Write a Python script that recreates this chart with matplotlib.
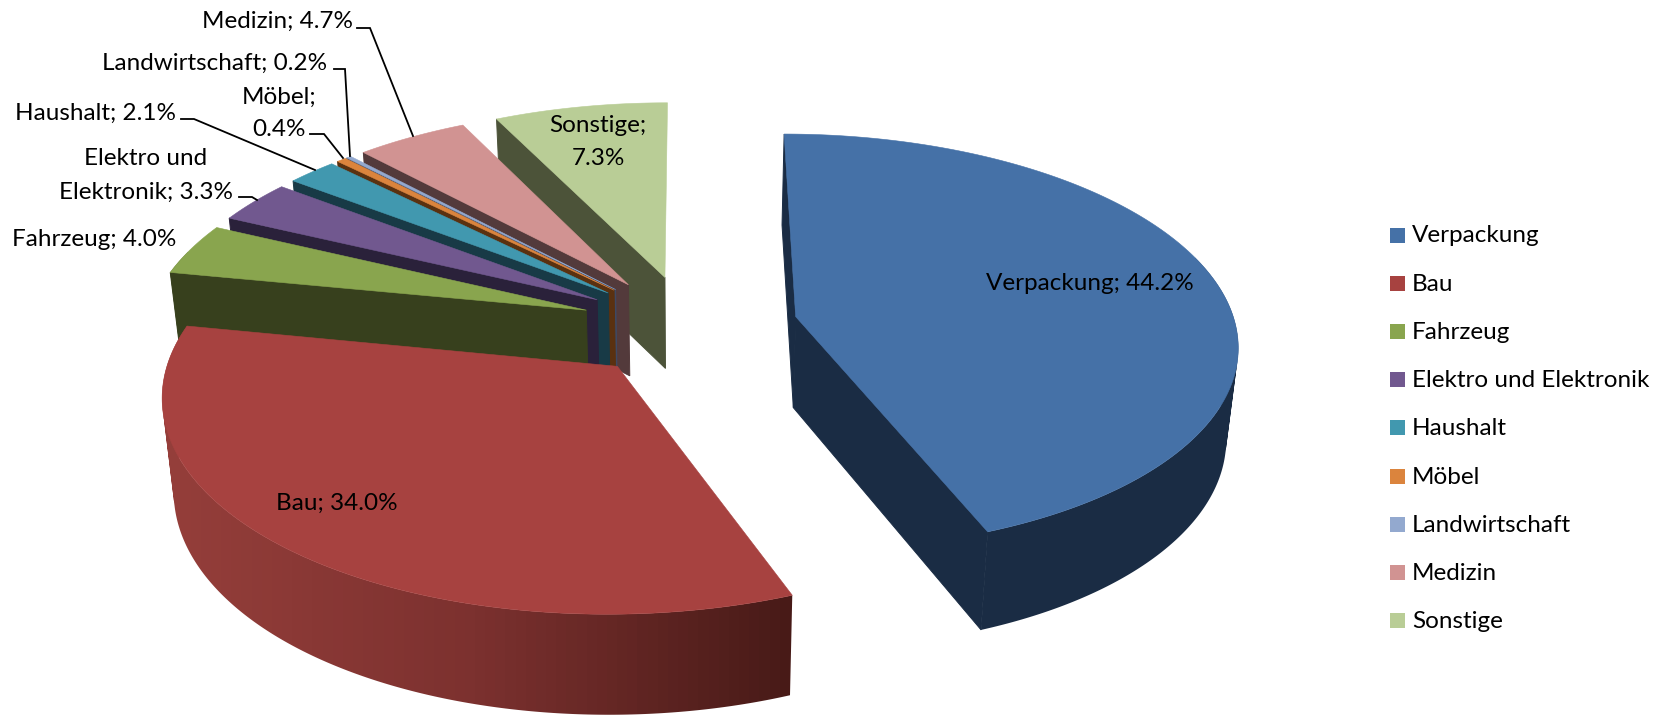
import numpy as np
import matplotlib
matplotlib.use("Agg")
import matplotlib.pyplot as plt
from matplotlib.patches import Polygon, Rectangle, PathPatch
from matplotlib.path import Path
from matplotlib.colors import LinearSegmentedColormap

plt.rcParams['font.family'] = ['Lato', 'DejaVu Sans']

# ---- data ----
categories = ["Verpackung", "Bau", "Fahrzeug", "Elektro und Elektronik", "Haushalt",
              "Möbel", "Landwirtschaft", "Medizin", "Sonstige"]
values = [44.2, 34.0, 4.0, 3.3, 2.1, 0.4, 0.2, 4.7, 7.3]

top_colors = ["#4571A7", "#A74240", "#89A54E", "#71588F", "#4198AF",
              "#DB843D", "#93A9CF", "#D19392", "#B9CD96"]
wall_colors = ["#1A2C44", "#4A1C18", "#37401D", "#2A213A", "#183A46",
               "#5A3110", "#3D4A66", "#533A3B", "#4C5339"]

# ---- projection of the exploded 3D pie ----
XC, YC, FX, FY, D = 689.0, 326.0, 440.0, 207.0, 8.2
EXPLODE = 0.248
CONVERGE = 0.022


def proj(X, Y, bottom=False):
    X, Y = np.asarray(X, float), np.asarray(Y, float)
    s = D / (D + Y)
    px = XC + FX * X * s
    py = YC - FY * Y * s
    if bottom:
        px = XC + (px - XC) * (1 - CONVERGE)
        py = py + 91 - 8 * np.minimum(Y, 0)
    return px, py


fig = plt.figure(figsize=(16.67, 7.15), dpi=100)
ax = fig.add_axes([0, 0, 1, 1])
ax.set_xlim(0, 1667)
ax.set_ylim(715, 0)
ax.axis("off")

edges = np.concatenate([[0], np.cumsum(values)]) / sum(values) * 2 * np.pi
draw_order = [8, 7, 6, 5, 4, 3, 2, 0, 1]
bau_cmap = LinearSegmentedColormap.from_list("bau", ["#963F3B", "#7C312F", "#471A17"])


def fill(xs, ys, color, z, lw=0.4):
    p = Polygon(np.column_stack([xs, ys]), closed=True, facecolor=color,
                edgecolor=color, linewidth=lw, zorder=z)
    ax.add_patch(p)
    return p


def quad_path(tx, ty, bx, by):
    """Union of the wall quads, each with the same winding, so no seams or holes."""
    verts, codes = [], []
    for k in range(len(tx) - 1):
        q = np.array([[tx[k], ty[k]], [tx[k + 1], ty[k + 1]], [bx[k + 1], by[k + 1]], [bx[k], by[k]]])
        x, y = q[:, 0], q[:, 1]
        area = np.sum(x * np.roll(y, -1) - np.roll(x, -1) * y)
        if area < 0:
            q = q[::-1]
        verts += list(q) + [q[0]]
        codes += [Path.MOVETO, Path.LINETO, Path.LINETO, Path.LINETO, Path.CLOSEPOLY]
    return Path(np.array(verts), codes)


for n, i in enumerate(draw_order):
    a0, a1 = edges[i], edges[i + 1]
    mid = (a0 + a1) / 2
    ox, oy = EXPLODE * np.sin(mid), EXPLODE * np.cos(mid)
    th = np.linspace(a0, a1, max(int(np.degrees(a1 - a0)) * 2, 4))
    ax_x, ax_y = ox + np.sin(th), oy + np.cos(th)
    z = 2 + n
    tx, ty = proj(ax_x, ax_y)
    bx, by = proj(ax_x, ax_y, True)
    atx, aty = proj(ox, oy)
    abx, aby = proj(ox, oy, True)
    # outer wall: only the part not hidden behind the top face
    front = np.cos(th) < 0.3
    if front.sum() >= 2:
        path = quad_path(tx[front], ty[front], bx[front], by[front])
        if categories[i] == "Bau":
            clip = PathPatch(path, facecolor="none", edgecolor="none", zorder=z + 0.05)
            ax.add_patch(clip)
            grad = np.linspace(0, 1, 64).reshape(1, -1)
            im = ax.imshow(grad, cmap=bau_cmap, extent=(150, 800, 720, 300), aspect="auto",
                           zorder=z + 0.05, interpolation="nearest")
            im.set_clip_path(clip)
            ax.set_xlim(0, 1667)
            ax.set_ylim(715, 0)
        else:
            ax.add_patch(PathPatch(path, facecolor=wall_colors[i], edgecolor="none",
                                   linewidth=0, zorder=z + 0.05))
    # radial walls that face the viewer, over the seam with the outer wall
    if tx[0] < atx:
        fill([atx, tx[0], bx[0], abx], [aty, ty[0], by[0], aby], wall_colors[i], z + 0.1, 0.7)
    if tx[-1] > atx + 5:
        fill([atx, tx[-1], bx[-1], abx], [aty, ty[-1], by[-1], aby], wall_colors[i], z + 0.1, 0.7)
    # top face
    fill(np.r_[atx, tx], np.r_[aty, ty], top_colors[i], z + 0.2)

# ---- labels ----
FS = 17.5
TY = 1.5
pct = {c: f"{c}; {v:.1f}%" for c, v in zip(categories, values)}
label_text = [
    (1090, 282, pct["Verpackung"]),
    (337, 502, pct["Bau"]),
    (94.5, 238, pct["Fahrzeug"]),
    (146, 157, "Elektro und"),
    (146, 191, "Elektronik; 3.3%"),
    (95.5, 112, pct["Haushalt"]),
    (279, 96, "Möbel;"),
    (279, 128, "0.4%"),
    (214.5, 62, pct["Landwirtschaft"]),
    (277, 20, pct["Medizin"]),
    (598, 124, "Sonstige;"),
    (598, 157, "7.3%"),
]
for x, y, t in label_text:
    ax.text(x, y + TY, t, ha="center", va="center", fontsize=FS, color="black", zorder=30)

leaders = [
    ([357, 370, 413], [28, 28, 136]),
    ([334, 345, 350], [69, 69, 156]),
    ([310, 324, 343], [134, 134, 158]),
    ([181, 194, 315], [119, 119, 170]),
    ([239, 252, 257], [197, 197, 200]),
]
for lx, ly in leaders:
    ax.plot(lx, ly, color="black", lw=1.3, zorder=29, solid_joinstyle="miter")

# ---- legend ----
for k, (c, col) in enumerate(zip(categories, top_colors)):
    yy = 235 + k * 48.2
    ax.add_patch(Rectangle((1390, yy - 7.5), 15, 15, facecolor=col, edgecolor="none", zorder=30))
    ax.text(1412, yy + 1, c, ha="left", va="center", fontsize=FS, color="black", zorder=30)

fig.savefig("out.png", dpi=100, facecolor="white")
